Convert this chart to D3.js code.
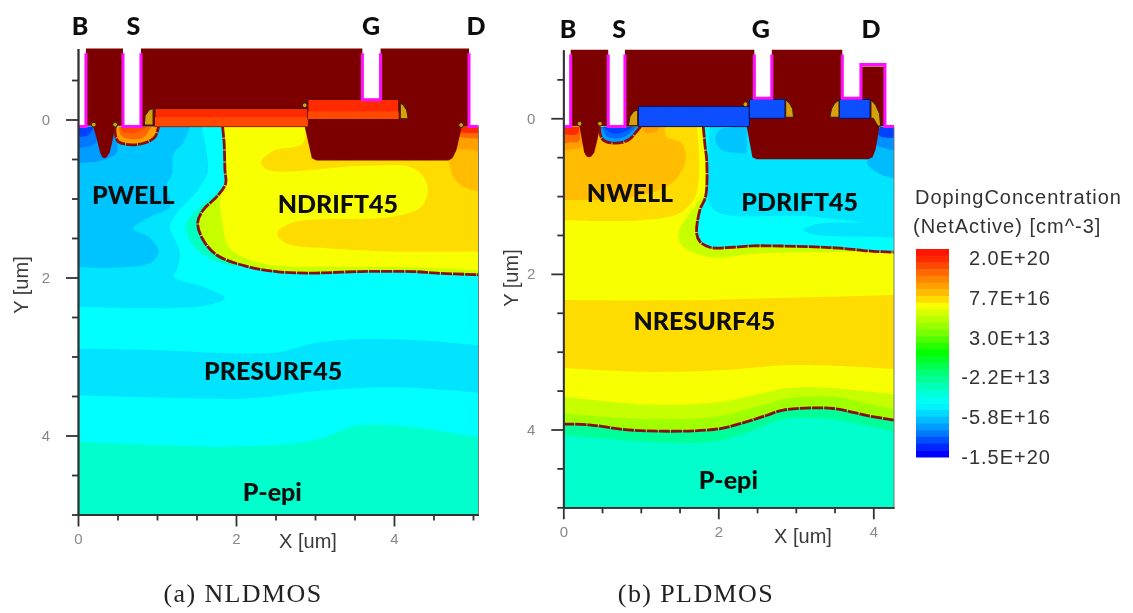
<!DOCTYPE html>
<html>
<head>
<meta charset="utf-8">
<script src="https://cdn.jsdelivr.net/npm/d3@7"></script>
<style>
  html, body { margin: 0; background: #fff; }
  svg { display: block; }
  .dev { font-family: Lato, "Open Sans", sans-serif; font-weight: 900; font-size: 25px; fill: #0a0a0a; text-anchor: middle; dominant-baseline: central; }
  .axname { font-family: "Liberation Sans", sans-serif; font-size: 20px; fill: #3a3a3a; text-anchor: middle; dominant-baseline: central; }
  .caption { font-family: "Liberation Serif", serif; font-size: 26px; letter-spacing: 1.4px; fill: #222; text-anchor: middle; }
  .leg { font-family: "Liberation Sans", sans-serif; font-size: 20px; letter-spacing: 1px; fill: #333; }
  .tick text { font-family: "Liberation Sans", sans-serif; font-size: 15px; fill: #888; }
  .tick line, .domain { stroke: #333; stroke-width: 1.8px; }
</style>
</head>
<body>
<svg id="chart" width="1133" height="613"></svg>
<script>
// legend
const legendLabels = ["2.0E+20", "7.7E+16", "3.0E+13", "-2.2E+13", "-5.8E+16", "-1.5E+20"];
const legendColors = ["#ff1400","#ff2c00","#ff4a00","#ff6800","#ff8400","#ffa000","#ffbc00","#ffdc00","#f8ff00","#d8ff00","#b8ff00",
  "#98ff00","#78ff00","#50ff00","#28ff00","#00ff00","#00ff28","#00ff50","#00ff78","#00ff98","#00ffb8","#00ffd8","#00fff0",
  "#00f4ff","#00d8ff","#00bcff","#009cff","#0078ff","#0050ff","#0028ff","#0000ff"];

// axis ticks in um
const yMinor = [-0.5, 0.5, 1, 1.5, 2.5, 3, 3.5, 4.5, 5];
const yMajor = [0, 2, 4];
const xMinorA = [0.5, 1, 1.5, 2.5, 3, 3.5, 4.5, 5];
const xMinorB = [0.5, 1, 1.5, 2.5, 3, 3.5];
const xMajor = [0, 2, 4];

// ---- NLDMOS, all in um. contour = [curved edge, straight closing corners]
const nPwellLight = [[[1.565,0.09],[1.63,0.43],[1.64,0.68],[1.52,0.89],[1.25,1.19],[1.165,1.36],[1.21,1.48],[1.29,1.69],[1.25,1.91],[1.21,1.99],[1.59,2.12],[1.86,2.26],[1.63,2.35],[0.91,2.39],[0,2.37]], [[0,0.09]]];
const nPwellMid = [[[1.42,0.09],[1.33,0.30],[1.21,0.43],[1.19,0.68],[1.12,0.85],[1.165,1.10],[0.91,1.23],[0.70,1.38],[0.91,1.50],[1.02,1.67],[0.91,1.82],[0,1.87]], [[0,0.09]]];
const nPwellDark = [[[0.55,0.09],[0.5,0.3],[0.49,0.42],[0.3,0.52],[0,0.55]], [[0,0.09]]];
const nPwellDarker = [[[0.22,0.09],[0.22,0.3],[0,0.36]], [[0,0.09]]];
const nPwellDeep = [[[0.2,0.09],[0.13,0.2],[0,0.22]], [[0,0.09]]];
const nResurfTop = [[[0,2.9],[1,2.92],[2.5,2.95],[3,2.83],[3.6,2.78],[4.4,2.8],[5.07,2.86]], [[5.07,5],[0,5]]];
const nResurfBot = [[[0,3.49],[1.5,3.53],[2.2,3.53],[3,3.44],[4,3.39],[5.07,3.46]], [[5.07,5],[0,5]]];
const nEpiTop = [[[0,4.08],[1,4.12],[2,4.14],[3,4.06],[3.5,3.88],[4,3.87],[5.07,4.02]], [[5.07,5],[0,5]]];
const nHalo = [[[1.87,0.8],[1.755,0.93],[1.46,1.19],[1.37,1.335],[1.44,1.57],[1.67,1.76],[2.0,1.87]], []];
const nJunction = [[1.83,0.09],[1.85,0.30],[1.86,0.64],[1.87,0.81],[1.755,0.98],[1.585,1.145],[1.515,1.31],[1.585,1.525],[1.755,1.715],[2.135,1.86],[2.515,1.925],[2.895,1.945],[3.57,1.925],[4.245,1.925],[4.54,1.945],[5.07,1.965]];
const nYellow = [[[1.84,0.09],[1.88,0.7],[1.80,1.0],[1.83,1.32],[1.90,1.6],[2.13,1.76],[2.47,1.845],[3.15,1.865],[4.2,1.87],[5.07,1.91]], [[5.07,0.09]]];
const nGold = [[[2.87,0.09],[2.85,0.30],[2.47,0.40],[2.32,0.54],[2.41,0.64],[3.57,0.59],[4.2,0.60],[4.37,0.72],[4.43,0.89],[4.35,1.10],[3.99,1.23],[2.73,1.30],[2.52,1.44],[2.64,1.57],[3.15,1.63],[3.99,1.67],[5.07,1.67]], [[5.07,0.09]]];
const nDrainC = [[[4.69,0.5],[4.75,0.72],[4.88,0.85],[5.07,0.91]], [[5.07,0.09],[4.69,0.09]]];
const nDrainB = [[[4.78,0.09],[4.72,0.35],[4.95,0.38],[5.07,0.40]], [[5.07,0.09]]];
const nDrainA = [[[4.8,0.09],[4.78,0.2],[5.07,0.24]], [[5.07,0.09]]];
const nDrainTop = [[[4.82,0.09],[4.8,0.15],[5.07,0.17]], [[5.07,0.09]]];
const nSource = [[[0.47,0.09],[0.47,0.175],[0.51,0.28],[0.68,0.32],[0.85,0.295],[0.975,0.22],[1.02,0.09]], []];
const nSourceMid = [[[0.52,0.09],[0.54,0.2],[0.68,0.25],[0.84,0.22],[0.93,0.09]], []];
const nSourceTop = [[[0.54,0.09],[0.56,0.15],[0.72,0.17],[0.88,0.09]], []];

const nContactB = [[0.10,-0.90],[0.57,-0.90],[0.57,0.08],[0.47,0.08],[0.44,0.26],[0.40,0.42],[0.36,0.48],[0.34,0.49],[0.31,0.48],[0.28,0.42],[0.24,0.26],[0.19,0.08],[0.10,0.08]];
const nMetal = [[0.797,-0.90],[3.60,-0.90],[3.60,-0.25],[3.83,-0.25],[3.83,-0.90],[4.95,-0.90],[4.95,0.09],[4.86,0.09],[4.79,0.39],[4.74,0.49],[4.69,0.52],[3.02,0.52],[2.96,0.49],[2.87,0.09],[0.797,0.09]];
const nGate1 = [[0.975,-0.14],[2.91,-0.14],[2.91,0.09],[0.975,0.09]];
const nGate1Low = [[0.975,-0.03],[2.91,-0.03],[2.91,0.09],[0.975,0.09]];
const nGate2 = [[2.91,-0.256],[4.06,-0.256],[4.06,-0.006],[2.91,-0.006]];
const nGate2Low = [[2.91,-0.10],[4.06,-0.10],[4.06,-0.006],[2.91,-0.006]];
const nSpacers = [
  [[0.95,-0.14],[0.95,0.07],[0.84,0.07],[0.85,-0.05],[0.9,-0.12]],
  [[4.08,-0.21],[4.12,-0.18],[4.16,-0.12],[4.18,-0.01],[4.08,-0.01]]
];
const nPink = [
  [[0,0.09],[0.10,0.09],[0.10,-0.84]],
  [[0.57,-0.84],[0.57,0.09],[0.797,0.09],[0.797,-0.84]],
  [[3.60,-0.84],[3.60,-0.25],[3.83,-0.25],[3.83,-0.84]],
  [[4.95,-0.84],[4.95,0.09],[5.07,0.09]]
];
const nDots = [[0.20,0.065],[0.47,0.065],[2.87,-0.18],[4.85,0.07]];
const nLabels = ["B","S","G","D","PWELL","NDRIFT45","PRESURF45","P-epi"];
const nLabelX = [0.025,0.70,3.71,5.04,0.70,3.29,2.47,2.46];
const nLabelY = [-1.196,-1.196,-1.196,-1.196,0.94,1.06,3.17,4.70];

// ---- PLDMOS, all in um
const pGoldTop = [[[0,2.335],[1.5,2.34],[2.8,2.31],[4.267,2.27]], [[4.267,5],[0,5]]];
const pYellowTop = [[[0,3.21],[1.1,3.26],[2,3.24],[3,3.17],[4.267,3.22]], [[4.267,5],[0,5]]];
const pLimeTop = [[[0,3.58],[1.1,3.68],[2,3.65],[2.9,3.47],[3.5,3.47],[4.267,3.55]], [[4.267,5],[0,5]]];
const pGreenTop = [[[0,3.79],[0.9,3.86],[1.94,3.84],[2.6,3.68],[2.9,3.6],[3.5,3.58],[3.9,3.66],[4.267,3.74]], [[4.267,5],[0,5]]];
const pJunctionLow = [[0,3.93],[0.33,3.94],[0.9,4.01],[1.94,4.0],[2.3,3.92],[2.62,3.82],[2.84,3.75],[3.48,3.73],[3.91,3.82],[4.267,3.88]];
const pEpiTop = [[[0,4.07],[1.33,4.17],[1.98,4.15],[2.4,4.03],[2.84,3.87],[3.48,3.87],[3.9,3.95],[4.267,4.03]], [[4.267,5],[0,5]]];
const pWellGold = [[[1.72,0.107],[1.755,0.62],[1.7,1.01],[1.5,1.22],[1.0,1.31],[0,1.31]], [[0,0.107]]];
const pWellOrange = [[[1.31,0.107],[1.33,0.236],[1.53,0.32],[1.58,0.535],[1.48,0.75],[1.29,0.90],[0.77,1.03],[0,1.05]], [[0,0.107]]];
const pWellPatch = [[[1.01,0.107],[1.07,0.19],[1.2,0.17],[1.25,0.107]], []];
const pBodyA = [[[0.25,0.107],[0.24,0.37],[0.1,0.4],[0,0.41]], [[0,0.107]]];
const pBodyB = [[[0.22,0.107],[0.2,0.3],[0.08,0.31],[0,0.33]], [[0,0.107]]];
const pBodyC = [[[0.2,0.107],[0.19,0.2],[0,0.21]], [[0,0.107]]];
const pHalo = [[[1.8,1.0],[1.70,1.135],[1.485,1.478],[1.55,1.65],[1.935,1.79],[2.45,1.74],[4.267,1.72]], [[4.267,1.5]]];
const pUpperJunction = [[1.806,0.107],[1.83,0.364],[1.85,0.535],[1.836,1.007],[1.763,1.178],[1.72,1.478],[1.763,1.585],[1.89,1.658],[2.19,1.658],[2.45,1.64],[3.14,1.65],[3.57,1.67],[4.0,1.71],[4.267,1.72]];
const pDriftLight = [[[1.89,0.107],[1.87,0.62],[1.885,1.09],[2.02,1.22],[3.14,1.26],[4.267,1.39]], [[4.267,0.107]]];
const pDriftLens = [[[4.267,1.36],[3.78,1.34],[3.27,1.36],[3.10,1.435],[3.27,1.50],[3.78,1.52],[4.267,1.53]], []];
const pDriftPatch = [[[2.366,0.107],[2.02,0.15],[1.96,0.28],[2.06,0.41],[2.366,0.45]], []];
const pDrainC = [[[4.06,0.13],[3.94,0.49],[3.92,0.58],[4.11,0.73],[4.267,0.77]], [[4.267,0.107]]];
const pDrainB = [[[4.06,0.13],[4.02,0.32],[4.267,0.41]], [[4.267,0.107]]];
const pDrainA = [[[4.09,0.107],[4.07,0.22],[4.267,0.25]], [[4.267,0.107]]];
const pSource = [[[0.473,0.107],[0.473,0.19],[0.516,0.28],[0.667,0.32],[0.84,0.28],[0.946,0.17],[0.998,0.107]], []];
const pSourceMid = [[[0.5,0.107],[0.56,0.23],[0.68,0.26],[0.82,0.22],[0.94,0.107]], []];
const pSourceTop = [[[0.52,0.107],[0.6,0.18],[0.7,0.2],[0.82,0.16],[0.9,0.107]], []];

const pContactB = [[0.095,-0.88],[0.58,-0.88],[0.58,0.10],[0.473,0.10],[0.44,0.28],[0.40,0.44],[0.36,0.49],[0.335,0.50],[0.30,0.49],[0.27,0.44],[0.24,0.28],[0.21,0.10],[0.095,0.10]];
const pMetal = [[0.795,-0.88],[2.465,-0.88],[2.465,-0.257],[2.69,-0.257],[2.69,-0.88],[3.60,-0.88],[3.60,-0.257],[3.84,-0.257],[3.84,-0.664],[4.15,-0.664],[4.15,0.10],[4.08,0.107],[4.03,0.4],[3.99,0.5],[3.935,0.527],[2.495,0.527],[2.44,0.5],[2.366,0.107],[0.795,0.107]];
const pGates = [
  [[0.968,-0.15],[2.40,-0.15],[2.40,0.107],[0.968,0.107]],
  [[2.40,-0.244],[2.86,-0.244],[2.86,0],[2.40,0]],
  [[3.56,-0.244],[3.957,-0.244],[3.957,0],[3.56,0]]
];
const pSpacers = [
  [[0.96,-0.107],[0.96,0.095],[0.84,0.095],[0.86,-0.02],[0.91,-0.09]],
  [[2.87,-0.236],[2.92,-0.19],[2.96,-0.12],[2.97,-0.013],[2.87,-0.013]],
  [[3.557,-0.236],[3.557,-0.013],[3.44,-0.013],[3.46,-0.12],[3.5,-0.19]],
  [[3.97,-0.236],[4.03,-0.17],[4.08,-0.06],[4.095,0.1],[4.06,0.1],[4.0,0],[3.97,0]]
];
const pPink = [
  [[0,0.107],[0.095,0.107],[0.095,-0.82]],
  [[0.58,-0.82],[0.58,0.107],[0.795,0.107],[0.795,-0.82]],
  [[2.465,-0.82],[2.465,-0.257],[2.69,-0.257],[2.69,-0.82]],
  [[3.60,-0.82],[3.60,-0.257],[3.84,-0.257],[3.84,-0.69],[4.15,-0.69],[4.15,0.107],[4.267,0.107]]
];
const pDots = [[0.21,0.07],[0.473,0.07],[2.35,-0.18]];
const pLabels = ["B","S","G","D","NWELL","PDRIFT45","NRESURF45","P-epi"];
const pLabelX = [0.06,0.72,2.55,3.97,0.86,3.05,1.82,2.13];
const pLabelY = [-1.16,-1.16,-1.16,-1.16,0.95,1.06,2.59,4.64];

let svg = d3.select("#chart");
// the original is a blurred screenshot
svg.append("defs").append("filter").attr("id","soft")
  .append("feGaussianBlur").attr("stdDeviation",0.6);
let root = svg.append("g").attr("filter","url(#soft)");

// one device panel: scales, clip for the silicon and small draw helpers
function makePanel(id, xMax, surface, xRange, yRange, yTop) {
  let x = d3.scaleLinear().domain([0,xMax]).range(xRange);
  let y = d3.scaleLinear().domain([yTop,5]).range(yRange);
  let g = root.append("g");
  svg.select("defs").append("clipPath").attr("id",id)
    .append("rect")
    .attr("x",x(0)).attr("y",y(surface))
    .attr("width",x(xMax)-x(0)).attr("height",y(5)-y(surface));
  let field = g.append("g").attr("clip-path","url(#"+id+")");
  let curve = d3.line().x(d=>x(d[0])).y(d=>y(d[1])).curve(d3.curveCatmullRom.alpha(0.5));
  let straight = d3.line().x(d=>x(d[0])).y(d=>y(d[1]));

  function band(c, color) {
    let tail = c[1].map(d=>"L"+x(d[0])+","+y(d[1])).join("");
    field.append("path").attr("d",curve(c[0])+tail+"Z").attr("fill",color);
  }
  function shape(pts, color, line) {
    g.append("path").attr("d",straight(pts)+"Z").attr("fill",color)
      .attr("stroke",line||"none").attr("stroke-width",line?1:0);
  }
  function pink(lines) {
    lines.forEach(l=>{
      g.append("path").attr("d",straight(l)).attr("fill","none")
        .attr("stroke","#ff10ff").attr("stroke-width",3);
    });
  }
  function junction(pts) {
    g.append("path").attr("d",curve(pts)).attr("fill","none")
      .attr("stroke","#8c0c0c").attr("stroke-width",2.8).attr("stroke-dasharray","11 1");
  }
  function dots(pts) {
    g.selectAll(null).data(pts).enter().append("circle")
      .attr("cx",d=>x(d[0])).attr("cy",d=>y(d[1])).attr("r",2.4)
      .attr("fill","#d8a010").attr("stroke","#3a1a00").attr("stroke-width",1);
  }
  return {x,y,g,field,band,shape,pink,junction,dots,xMax,surface};
}

function drawAxes(p, xMinor, yLabelX, yLabelY, xLabelX, xLabelY) {
  let b = p.y(5), l = p.x(0);
  p.g.append("g").attr("transform","translate("+l+",0)")
    .call(d3.axisLeft(p.y).tickValues(yMinor).tickSize(6).tickSizeOuter(0).tickFormat(""));
  p.g.append("g").attr("transform","translate("+l+",0)")
    .call(d3.axisLeft(p.y).tickValues(yMajor).tickSize(12).tickPadding(16).tickSizeOuter(0).tickFormat(d3.format("d")));
  p.g.append("g").attr("transform","translate(0,"+b+")")
    .call(d3.axisBottom(p.x).tickValues(xMinor).tickSize(6).tickSizeOuter(0).tickFormat(""));
  p.g.append("g").attr("transform","translate(0,"+b+")")
    .call(d3.axisBottom(p.x).tickValues(xMajor).tickSize(12).tickPadding(7).tickSizeOuter(0).tickFormat(d3.format("d")));
  // thin grey edge on the right of the silicon
  p.g.append("line").attr("x1",p.x(p.xMax)).attr("x2",p.x(p.xMax))
    .attr("y1",p.y(p.surface)).attr("y2",b).attr("stroke","#777").attr("stroke-width",1);
  p.g.append("text").attr("class","axname").attr("x",xLabelX).attr("y",xLabelY).text("X [um]");
  p.g.append("text").attr("class","axname").attr("transform","translate("+yLabelX+","+yLabelY+")rotate(-90)").text("Y [um]");
}

function drawLabels(p, names, xs, ys) {
  p.g.selectAll(null).data(names).enter().append("text")
    .attr("class","dev")
    .attr("x",(d,i)=>p.x(xs[i]))
    .attr("y",(d,i)=>p.y(ys[i]))
    .text(d=>d);
}

//========== NLDMOS ==========
let a = makePanel("clipA", 5.07, 0.09, [78,478.5], [48.4,514.5], -0.9);
a.field.append("rect").attr("x",0).attr("y",0).attr("width",1133).attr("height",613).attr("fill","#00ffff");
a.band(nPwellLight,"#00e4ff");
a.band(nPwellMid,"#00c4ff");
a.band(nPwellDark,"#009cff");
a.band(nPwellDarker,"#0078ff");
a.band(nPwellDeep,"#0040ff");
a.band(nResurfTop,"#00e4ff");
a.band(nResurfBot,"#00ffff");
a.band(nEpiTop,"#00ffcc");
a.band(nHalo,"#00ffc0");
a.band([nJunction,[[5.07,0.09]]],"#c8ff00");
a.band(nYellow,"#f8ff00");
a.band(nGold,"#ffdc00");
a.band(nDrainC,"#ffbc00");
a.band(nDrainB,"#ffa000");
a.band(nDrainA,"#ff6800");
a.band(nDrainTop,"#ff2c00");
a.band(nSource,"#ffa000");
a.band(nSourceMid,"#ff6800");
a.band(nSourceTop,"#ff4a00");
a.junction(nJunction);
a.junction(nSource[0]);
a.shape(nContactB,"#7c0606");
a.shape(nMetal,"#7c0606");
a.shape(nGate1,"#ff2c00","#4a0a00");
a.shape(nGate1Low,"#ff4a00");
a.shape(nGate2,"#ff2c00","#4a0a00");
a.shape(nGate2Low,"#ff4a00");
nSpacers.forEach(s=>a.shape(s,"#d8a010","#3a1a00"));
a.pink(nPink);
a.dots(nDots);
drawAxes(a, xMinorA, 21, 285, 308, 541);
drawLabels(a, nLabels, nLabelX, nLabelY);

//========== PLDMOS ==========
let b = makePanel("clipB", 4.267, 0.107, [563.3,894], [49.8,507.3], -0.88);
b.field.append("rect").attr("x",0).attr("y",0).attr("width",1133).attr("height",613).attr("fill","#f8ff00");
b.band(pGoldTop,"#ffdc00");
b.band(pYellowTop,"#f8ff00");
b.band(pLimeTop,"#c8ff00");
b.band(pGreenTop,"#a0ff00");
b.band([pJunctionLow,[[4.267,5],[0,5]]],"#00ff98");
b.band(pEpiTop,"#00ffcc");
b.band(pWellGold,"#ffdc00");
b.band(pWellOrange,"#ffbc00");
b.band(pWellPatch,"#ffa000");
b.band(pBodyA,"#ffa000");
b.band(pBodyB,"#ff6800");
b.band(pBodyC,"#ff2c00");
b.band(pHalo,"#c8ff00");
b.band([pUpperJunction,[[4.267,0.107]]],"#00ffff");
b.band(pDriftLight,"#00e4ff");
b.band(pDriftLens,"#00e4ff");
b.band(pDriftPatch,"#00c4ff");
b.band(pDrainC,"#00bcff");
b.band(pDrainB,"#0090ff");
b.band(pDrainA,"#0040ff");
b.band(pSource,"#009cff");
b.band(pSourceMid,"#0068ff");
b.band(pSourceTop,"#0040ff");
b.junction(pJunctionLow);
b.junction(pUpperJunction);
b.junction(pSource[0]);
b.shape(pContactB,"#7c0606");
b.shape(pMetal,"#7c0606");
pGates.forEach(s=>b.shape(s,"#0a50ff","#0a1060"));
pSpacers.forEach(s=>b.shape(s,"#d8a010","#3a1a00"));
b.pink(pPink);
b.dots(pDots);
drawAxes(b, xMinorB, 511, 278, 803, 536);
drawLabels(b, pLabels, pLabelX, pLabelY);

//========== captions ==========
root.append("text").attr("class","caption").attr("x",243).attr("y",602).text("(a) NLDMOS");
root.append("text").attr("class","caption").attr("x",696).attr("y",602).text("(b) PLDMOS");

//========== legend ==========
let legY = d3.scaleBand().domain(d3.range(legendColors.length)).range([249,457]);
root.selectAll("rect.lb").data(legendColors).enter().append("rect")
  .attr("class","lb")
  .attr("x",916).attr("width",33)
  .attr("y",(d,i)=>legY(i))
  .attr("height",legY.bandwidth()+0.5)
  .attr("fill",d=>d);
let legText = d3.scalePoint().domain(legendLabels).range([258,457]);
root.selectAll("text.lt").data(legendLabels).enter().append("text")
  .attr("class","leg lt")
  .attr("x",1051).attr("text-anchor","end")
  .attr("y",d=>legText(d)).attr("dominant-baseline","central")
  .text(d=>d);
root.append("text").attr("class","leg").attr("x",915).attr("y",204).attr("letter-spacing","1.85px").text("DopingConcentration");
root.append("text").attr("class","leg").attr("x",913).attr("y",233).text("(NetActive)  [cm^-3]");
</script>
</body>
</html>
